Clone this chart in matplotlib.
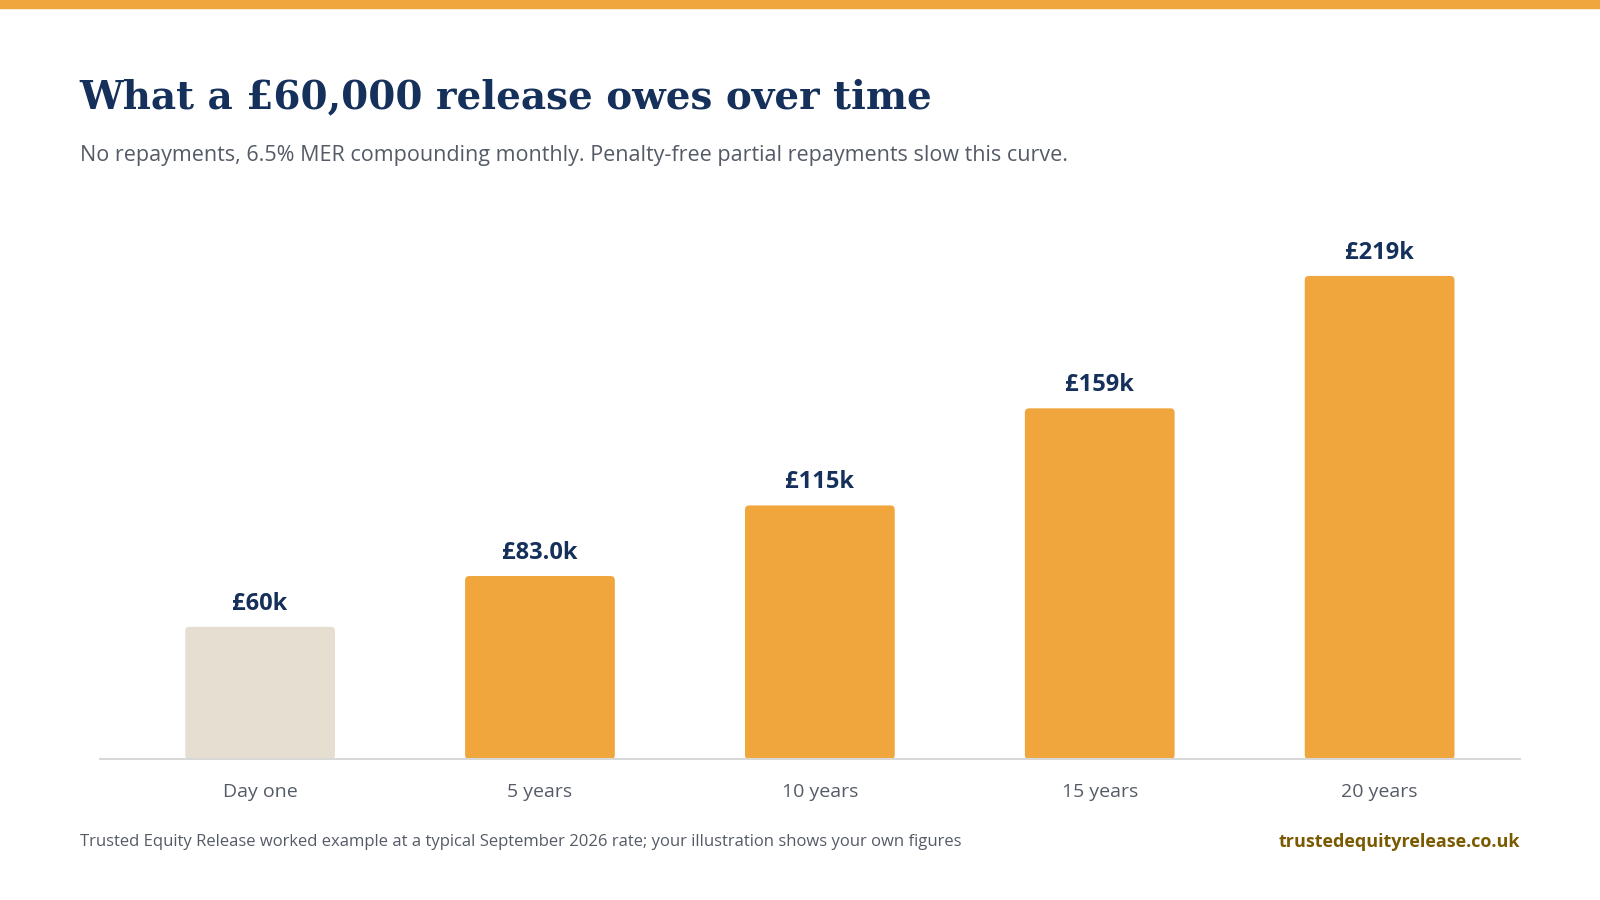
import matplotlib
matplotlib.use("Agg")
import matplotlib.pyplot as plt
from matplotlib.patches import FancyBboxPatch, Rectangle

categories = ["Day one", "5 years", "10 years", "15 years", "20 years"]
values_k = [60, 83.0, 115, 159, 219]
labels = ["£60k", "£83.0k", "£115k", "£159k", "£219k"]

ORANGE = "#f0a63c"
BEIGE = "#e6dfd1"
NAVY = "#15305a"
GREY = "#555b66"

W, H = 1568, 882

plt.rcParams["font.family"] = ["Open Sans", "DejaVu Sans"]

fig = plt.figure(figsize=(16, 9), dpi=100)
fig.patches.append(Rectangle((0, 1 - 8 / H), 1, 8 / H, transform=fig.transFigure,
                             color=ORANGE, zorder=0))

fig.text(78 / W, 1 - 95 / H, "What a £60,000 release owes over time",
         family="DejaVu Serif", weight="bold", fontsize=28, color=NAVY, va="center")
fig.text(78 / W, 1 - 152 / H,
         "No repayments, 6.5% MER compounding monthly. Penalty-free partial repayments slow this curve.",
         fontsize=15.5, color=GREY, va="center")
fig.text(78 / W, 1 - 825 / H,
         "Trusted Equity Release worked example at a typical September 2026 rate; your illustration shows your own figures",
         fontsize=12, color=GREY, va="center")
fig.text(1490 / W, 1 - 825 / H, "trustedequityrelease.co.uk",
         fontsize=13, weight="bold", color="#7a5a00", va="center", ha="right")

ax = fig.add_axes([98 / W, (H - 744) / H, 1392 / W, (744 - 225) / H])
ax.set_xlim(-0.572, 4.503)
ax.set_ylim(0, 240)

w = 0.535
for i, v in enumerate(values_k):
    c = BEIGE if i == 0 else ORANGE
    ax.add_patch(FancyBboxPatch((i - w / 2, 0), w, v,
                                boxstyle="round,pad=0,rounding_size=0.015",
                                mutation_aspect=127, fc=c, ec="none"))
    ax.text(i, v + 5, labels[i], ha="center", va="bottom", fontsize=17,
            weight="bold", color=NAVY)

for s in ["top", "right", "left"]:
    ax.spines[s].set_visible(False)
ax.spines["bottom"].set_color("#d8d8d8")
ax.spines["bottom"].set_linewidth(1.5)
ax.set_yticks([])
ax.set_xticks(range(len(categories)))
ax.set_xticklabels(categories, fontsize=14, color=GREY)
ax.tick_params(axis="x", length=0, pad=17)

fig.savefig("out.png", dpi=100)
